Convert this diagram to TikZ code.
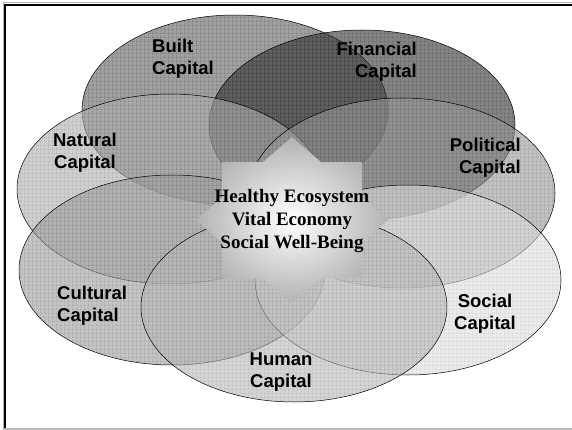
\documentclass[tikz,border=0pt]{standalone}
\usepackage{fontspec}
\setmainfont{Liberation Serif}
\setsansfont{Liberation Sans}
\usetikzlibrary{patterns}
\pgfdeclarepatternformonly{finegrid}{\pgfpointorigin}{\pgfqpoint{4pt}{4pt}}{\pgfqpoint{4pt}{4pt}}{%
  \pgfsetlinewidth{0.5pt}%
  \pgfpathmoveto{\pgfqpoint{0pt}{0.25pt}}\pgfpathlineto{\pgfqpoint{4pt}{0.25pt}}%
  \pgfpathmoveto{\pgfqpoint{0.25pt}{0pt}}\pgfpathlineto{\pgfqpoint{0.25pt}{4pt}}%
  \pgfusepath{stroke}}
\definecolor{cBuilt}{gray}{0.38}
\definecolor{cFin}{gray}{0.2}
\definecolor{cNat}{gray}{0.69}
\definecolor{cPol}{gray}{0.6}
\definecolor{cCul}{gray}{0.62}
\definecolor{cSoc}{gray}{0.87}
\definecolor{cHum}{gray}{0.72}
\begin{document}
\begin{tikzpicture}[x=1pt,y=-1pt,
  capfill/.style={fill=#1,fill opacity=0.6},
  gridtex/.style={pattern=finegrid,pattern color=black,fill opacity=#1},
  capedge/.style={draw=black,line width=0.5pt},
  lab/.style={font=\sffamily\bfseries\fontsize{18.5}{22}\selectfont,inner sep=0pt},
  ctrtext/.style={font=\bfseries\fontsize{19}{23}\selectfont,inner sep=0pt,align=center}]
\useasboundingbox (0,0) rectangle (572,430);
\fill[white] (0,0) rectangle (572,430);
% ellipses
\foreach \cx/\cy/\col/\tex in {235/110/cBuilt/0.3, 362/125/cFin/0.3, 170/189/cNat/0.18, 402/193/cPol/0.2, 172/270/cCul/0.2, 408/280/cSoc/0.12, 294/307/cHum/0.15}{
  \fill[capfill=\col] (\cx,\cy) ellipse [x radius=153, y radius=95];
  \fill[gridtex=\tex] (\cx,\cy) ellipse [x radius=153, y radius=95];
  \draw[capedge] (\cx,\cy) ellipse [x radius=153, y radius=95];
}
% central star
\begin{scope}[shift={(292,220)}]
\shade[inner color=white, outer color=gray!60]
  (0,-83) -- (28.9,-58) -- (70,-58) -- (70,-22.5) -- (96,0) -- (70,22.5) -- (70,58) -- (28.9,58)
  -- (0,83) -- (-28.9,58) -- (-70,58) -- (-70,22.5) -- (-96,0) -- (-70,-22.5) -- (-70,-58) -- (-28.9,-58) -- cycle;
\end{scope}
\node[ctrtext] (ctr) at (292,221) {Healthy Ecosystem\\Vital Economy\\Social Well-Being};
% labels
\node[lab,anchor=west,align=left] (built) at (152,59) {Built\\Capital};
\node[lab,anchor=east,align=right] (fin) at (417,62) {Financial\\Capital};
\node[lab,align=center] (nat) at (85,153) {Natural\\Capital};
\node[lab,anchor=east,align=right] (pol) at (521,158) {Political\\Capital};
\node[lab,anchor=west,align=left] (cul) at (57,306) {Cultural\\Capital};
\node[lab,align=center] (soc) at (485,314) {Social\\Capital};
\node[lab,align=center] (hum) at (281,372) {Human\\Capital};
% frame
\draw[gray!55,line width=1pt] (3,430) -- (3,3) -- (572,3);
\draw[black,line width=2.5pt] (5,429) -- (5,5) -- (572,5);
\draw[gray!55,line width=1.5pt] (4,429) -- (572,429);
\end{tikzpicture}
\end{document}
